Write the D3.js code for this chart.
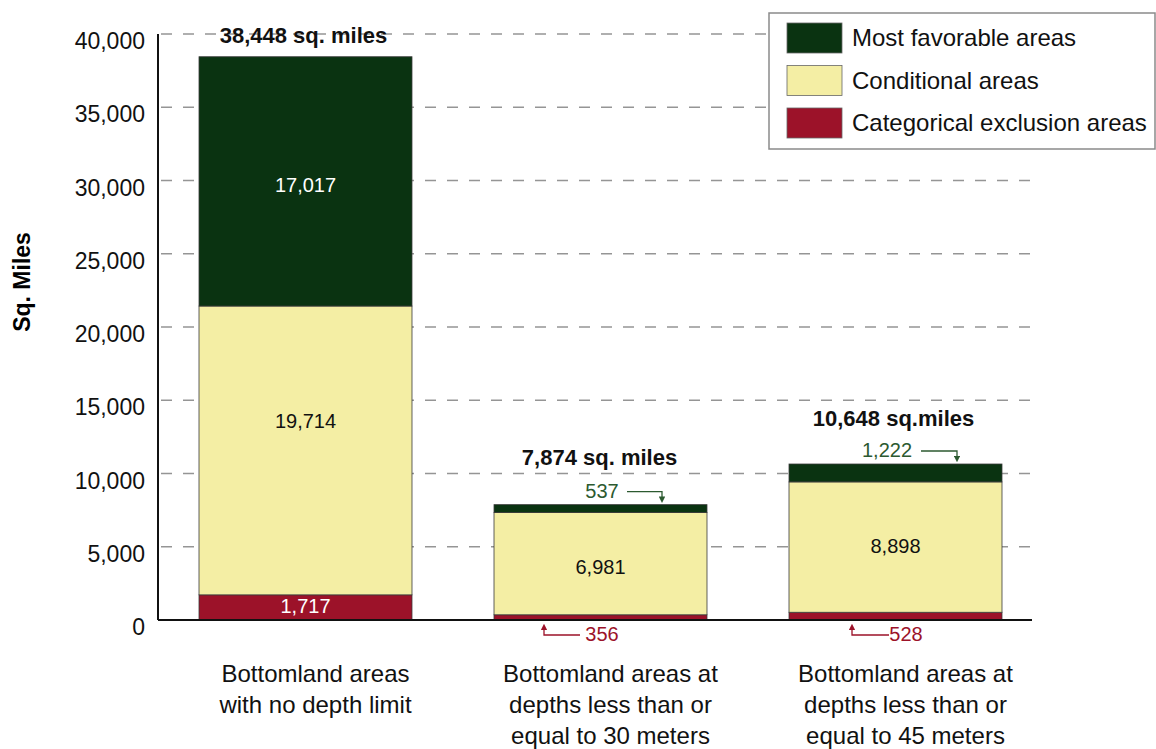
<!DOCTYPE html>
<html>
<head>
<meta charset="utf-8">
<style>
    body { margin: 0; background: #fff; }
    svg { display: block; font-family: 'Liberation Sans', Arial, sans-serif; }
</style>
</head>
<body>
<svg width="1156" height="749"></svg>

<script src="https://d3js.org/d3.v7.min.js"></script>
<script>
    // data
    let categories = ["no depth limit", "<= 30 m", "<= 45 m"];
    let categoryLines = [
        ["Bottomland areas", "with no depth limit"],
        ["Bottomland areas at", "depths less than or", "equal to 30 meters"],
        ["Bottomland areas at", "depths less than or", "equal to 45 meters"]
    ];
    let exclusion = [1717, 356, 528];
    let conditional = [19714, 6981, 8898];
    let favorable = [17017, 537, 1222];
    let totalLabels = ["38,448 sq. miles", "7,874 sq. miles", "10,648 sq.miles"];
    let seriesNames = ["Most favorable areas", "Conditional areas", "Categorical exclusion areas"];
    let yTicks = [0, 5000, 10000, 15000, 20000, 25000, 30000, 35000, 40000];

    let colors = {
        fav: "#0a3311",
        cond: "#f4eea4",
        excl: "#9c1229"
    };

    let svg = d3.select("svg");

    let y = d3.scaleLinear()
        .domain([0, 40000])
        .range([620, 34]);

    let x = d3.scaleBand()
        .domain(categories)
        .range([158, 1043])
        .paddingInner(0.278)
        .paddingOuter(0.139);

    // dashed gridlines
    svg.selectAll(".grid")
        .data(yTicks.filter(d => d > 0))
        .join("line")
        .attr("x1", 161)
        .attr("x2", 1036)
        .attr("y1", d => y(d))
        .attr("y2", d => y(d))
        .style("stroke", "#959595")
        .style("stroke-width", 1.5)
        .style("stroke-dasharray", "11,11")

    // stacked rows
    let rows = categories.map((c, i) => ({
        cat: c,
        excl: exclusion[i],
        cond: conditional[i],
        fav: favorable[i]
    }));

    let stack = d3.stack().keys(["excl", "cond", "fav"]);
    let layers = stack(rows);

    svg.selectAll(".layer")
        .data(layers)
        .join("g")
        .style("fill", d => colors[d.key])
        .selectAll("rect")
        .data(d => d)
        .join("rect")
        .attr("x", d => x(d.data.cat))
        .attr("width", x.bandwidth())
        .attr("y", d => y(d[1]))
        .attr("height", d => y(d[0]) - y(d[1]))
        .style("stroke", "#3a3a3a")
        .style("stroke-width", 0.8)

    // axes lines
    svg.append("line")
        .attr("x1", 158).attr("x2", 158)
        .attr("y1", y(40000)).attr("y2", y(0))
        .style("stroke", "#111").style("stroke-width", 2)

    svg.append("line")
        .attr("x1", 158).attr("x2", 1032)
        .attr("y1", y(0)).attr("y2", y(0))
        .style("stroke", "#111").style("stroke-width", 2)

    // y tick labels
    svg.selectAll(".ytick")
        .data(yTicks)
        .join("text")
        .attr("x", 145)
        .attr("y", d => y(d) + 15)
        .attr("text-anchor", "end")
        .style("font-size", "23px")
        .style("fill", "#111")
        .text(d => d3.format(",")(d))

    svg.append("text")
        .attr("transform", "translate(30,282) rotate(-90)")
        .attr("text-anchor", "middle")
        .style("font-size", "23px")
        .style("font-weight", "bold")
        .text("Sq. Miles")

    // values inside the bars (small nudge per label, as in the original)
    let inside = [
        { i: 0, key: "fav", v: favorable[0], color: "#fff", dy: 11 },
        { i: 0, key: "cond", v: conditional[0], color: "#111", dy: -22 },
        { i: 0, key: "excl", v: exclusion[0], color: "#fff", dy: 6 },
        { i: 1, key: "cond", v: conditional[1], color: "#111", dy: 10 },
        { i: 2, key: "cond", v: conditional[2], color: "#111", dy: 6 }
    ];
    let layerByKey = {};
    layers.forEach(l => layerByKey[l.key] = l);

    svg.selectAll(".inlabel")
        .data(inside)
        .join("text")
        .attr("x", d => x(categories[d.i]) + x.bandwidth() / 2)
        .attr("y", d => {
            let seg = layerByKey[d.key][d.i];
            return (y(seg[0]) + y(seg[1])) / 2 + d.dy;
        })
        .attr("text-anchor", "middle")
        .style("font-size", "20px")
        .style("fill", d => d.color)
        .text(d => d3.format(",")(d.v))

    // totals above bars
    let totalOffsetX = [-2, -1, -2];
    let totalOffsetY = [-14, -40, -38];
    svg.selectAll(".total")
        .data(categories)
        .join("text")
        .attr("x", (d, i) => x(d) + x.bandwidth() / 2 + totalOffsetX[i])
        .attr("y", (d, i) => y(exclusion[i] + conditional[i] + favorable[i]) + totalOffsetY[i])
        .attr("text-anchor", "middle")
        .style("font-size", "22px")
        .style("font-weight", "bold")
        .style("fill", "#111")
        .text((d, i) => totalLabels[i])

    // small callouts for thin segments
    let arrowDefs = svg.append("defs");
    ["fav", "excl"].forEach(k => {
        arrowDefs.append("marker")
            .attr("id", "arr-" + k)
            .attr("viewBox", "0 0 10 10")
            .attr("refX", 5).attr("refY", 5)
            .attr("markerWidth", 5).attr("markerHeight", 5)
            .attr("orient", "auto")
            .append("path")
            .attr("d", "M0,0 L10,5 L0,10 Z")
            .style("fill", k == "fav" ? "#2c5a30" : colors.excl)
    });

    // favorable callouts (above bar, arrow pointing down)
    let favCall = [
        { i: 1, textX: 602, lineX1: 627, lineX2: 662 },
        { i: 2, textX: 887, lineX1: 921, lineX2: 957 }
    ];
    favCall.forEach(c => {
        let top = y(exclusion[c.i] + conditional[c.i] + favorable[c.i]);
        let ty = top - 7;
        svg.append("text")
            .attr("x", c.textX).attr("y", ty)
            .attr("text-anchor", "middle")
            .style("font-size", "20px")
            .style("fill", "#2c5a30")
            .text(d3.format(",")(favorable[c.i]))
        svg.append("path")
            .attr("d", `M${c.lineX1},${ty - 6} H${c.lineX2} V${top - 5}`)
            .style("fill", "none")
            .style("stroke", "#2c5a30")
            .style("stroke-width", 1.3)
            .attr("marker-end", "url(#arr-fav)")
    });

    // exclusion callouts (below axis, arrow pointing up)
    let exclCall = [
        { i: 1, textX: 602, lineX1: 580, lineX2: 544 },
        { i: 2, textX: 906, lineX1: 889, lineX2: 852 }
    ];
    exclCall.forEach(c => {
        let ty = y(0) + 21;
        svg.append("text")
            .attr("x", c.textX).attr("y", ty)
            .attr("text-anchor", "middle")
            .style("font-size", "20px")
            .style("fill", colors.excl)
            .text(d3.format(",")(exclusion[c.i]))
        svg.append("path")
            .attr("d", `M${c.lineX1},${ty - 6} H${c.lineX2} V${y(0) + 7}`)
            .style("fill", "none")
            .style("stroke", colors.excl)
            .style("stroke-width", 1.3)
            .attr("marker-end", "url(#arr-excl)")
    });

    // category labels
    categoryLines.forEach((lines, i) => {
        let t = svg.append("text")
            .attr("text-anchor", "middle")
            .style("font-size", "24px")
            .style("fill", "#111");
        lines.forEach((ln, j) => {
            t.append("tspan")
                .attr("x", x(categories[i]) + x.bandwidth() / 2 + 10)
                .attr("y", 682 + j * 31)
                .text(ln)
        });
    });

    // legend
    let legend = svg.append("g");
    legend.append("rect")
        .attr("x", 769).attr("y", 13)
        .attr("width", 386).attr("height", 136)
        .style("fill", "#fff")
        .style("stroke", "#8a8a8a")
        .style("stroke-width", 1.5)

    let legendColors = [colors.fav, colors.cond, colors.excl];
    seriesNames.forEach((name, i) => {
        legend.append("rect")
            .attr("x", 787).attr("y", 23 + i * 42.5)
            .attr("width", 55).attr("height", 30)
            .style("fill", legendColors[i])
            .style("stroke", "#666")
            .style("stroke-width", 0.8)
        legend.append("text")
            .attr("x", 852).attr("y", 46 + i * 42.5)
            .style("font-size", "24px")
            .style("fill", "#111")
            .text(name)
    });
</script>
</body>
</html>
